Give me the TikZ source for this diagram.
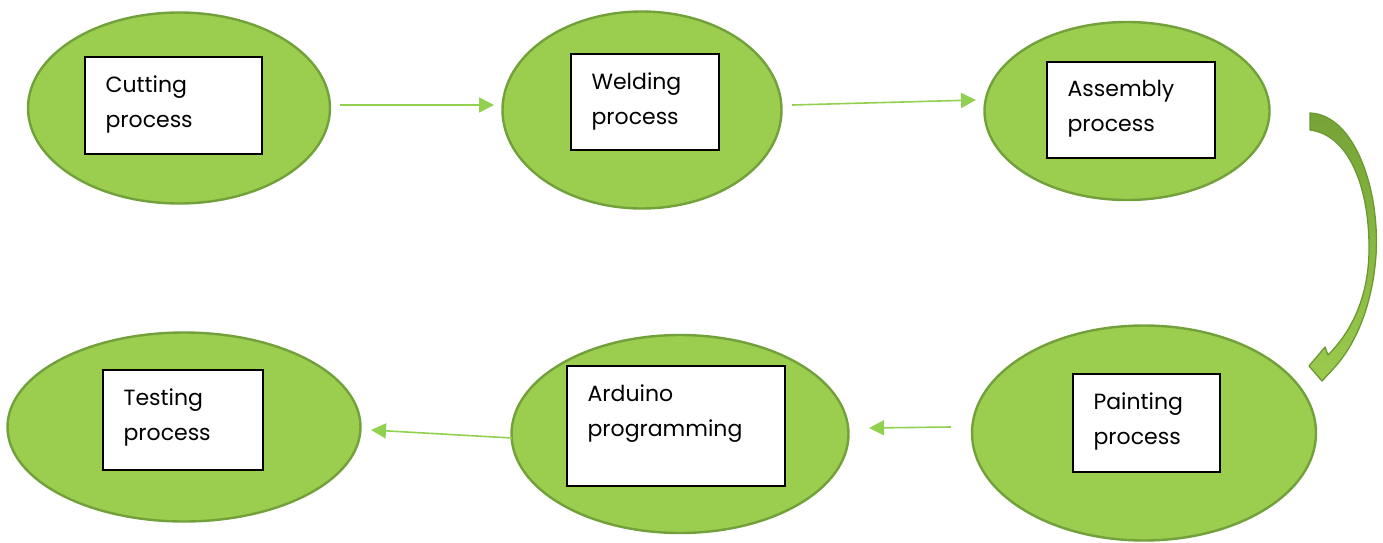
\documentclass[tikz,border=0pt]{standalone}
\usepackage{fontspec}
\setmainfont{Poppins}
\usetikzlibrary{shapes.geometric,arrows.meta}
\definecolor{leaf}{HTML}{9BCD4F}
\definecolor{leafedge}{HTML}{72A03A}
\definecolor{flow}{HTML}{92D050}
\definecolor{benddark}{HTML}{76A337}
\definecolor{bendlight}{HTML}{9ACB4D}
\definecolor{bendedge}{HTML}{6C9832}
\tikzset{
  stage/.style={ellipse, fill=leaf, draw=leafedge, line width=2.4pt, inner sep=0pt},
  stagebox/.style={rectangle, draw=black, fill=white, line width=1.2pt, inner sep=0pt},
  caption/.style={anchor=north west, align=left, inner sep=0pt,
    font=\fontsize{22}{35}\selectfont},
  flowline/.style={draw=flow, line width=1.6pt, -{Triangle[length=15pt,width=15pt]}}
}
\begin{document}
\begin{tikzpicture}[x=1pt,y=-1pt]
\useasboundingbox (0,0) rectangle (1383,543);

% process stages
\node[stage, minimum width=302pt, minimum height=191pt] (e1) at (179,108) {};
\node[stage, minimum width=279pt, minimum height=197pt] (e2) at (642,110) {};
\node[stage, minimum width=285pt, minimum height=178pt] (e3) at (1127,111) {};
\node[stage, minimum width=344pt, minimum height=215pt] (e4) at (1144,433) {};
\node[stage, minimum width=337pt, minimum height=198pt] (e5) at (680,434) {};
\node[stage, minimum width=353pt, minimum height=189pt] (e6) at (184,427) {};

% label boxes
\node[stagebox, minimum width=177pt, minimum height=97pt] (b1) at (173.5,105.5) {};
\node[stagebox, minimum width=148pt, minimum height=96pt] (b2) at (645,102) {};
\node[stagebox, minimum width=168pt, minimum height=96pt] (b3) at (1131,110) {};
\node[stagebox, minimum width=147pt, minimum height=98pt] (b4) at (1146.5,423) {};
\node[stagebox, minimum width=218pt, minimum height=120pt] (b5) at (676,426) {};
\node[stagebox, minimum width=160pt, minimum height=100pt] (b6) at (183,420) {};

\node[caption] (t1) at ([xshift=21pt,yshift=-19pt]b1.north west) {Cutting\\process};
\node[caption] (t2) at ([xshift=21pt,yshift=-19pt]b2.north west) {Welding\\process};
\node[caption] (t3) at ([xshift=21pt,yshift=-19pt]b3.north west) {Assembly\\process};
\node[caption] (t4) at ([xshift=21pt,yshift=-19pt]b4.north west) {Painting\\process};
\node[caption] (t5) at ([xshift=21pt,yshift=-19pt]b5.north west) {Arduino\\programming};
\node[caption] (t6) at ([xshift=21pt,yshift=-19pt]b6.north west) {Testing\\process};

% straight connectors
\coordinate (a1s) at (340,105);  \coordinate (a1e) at (494,105);
\coordinate (a2s) at (792,105);  \coordinate (a2e) at (976,100);
\coordinate (a4s) at (951,427);  \coordinate (a4e) at (869,428);
\coordinate (a5s) at (512,438);  \coordinate (a5e) at (371,430);
\draw[flowline] (a1s) -- (a1e);
\draw[flowline] (a2s) -- (a2e);
\draw[flowline] (a4s) -- (a4e);
\draw[flowline] (a5s) -- (a5e);

% curved block arrow from assembly down to painting
\shadedraw[top color=benddark, bottom color=bendlight, draw=bendedge,
    line width=1.3pt, line join=round]
  (1310,113) .. controls (1355,115) and (1380,190) .. (1376,255)
  .. controls (1373,300) and (1358,342) .. (1334,368)
  -- (1322,381) -- (1309,366) -- (1325,347) -- (1328,355)
  .. controls (1350,333) and (1368,300) .. (1369,252)
  .. controls (1370,190) and (1350,135) .. (1310,130) -- cycle;
\end{tikzpicture}
\end{document}
